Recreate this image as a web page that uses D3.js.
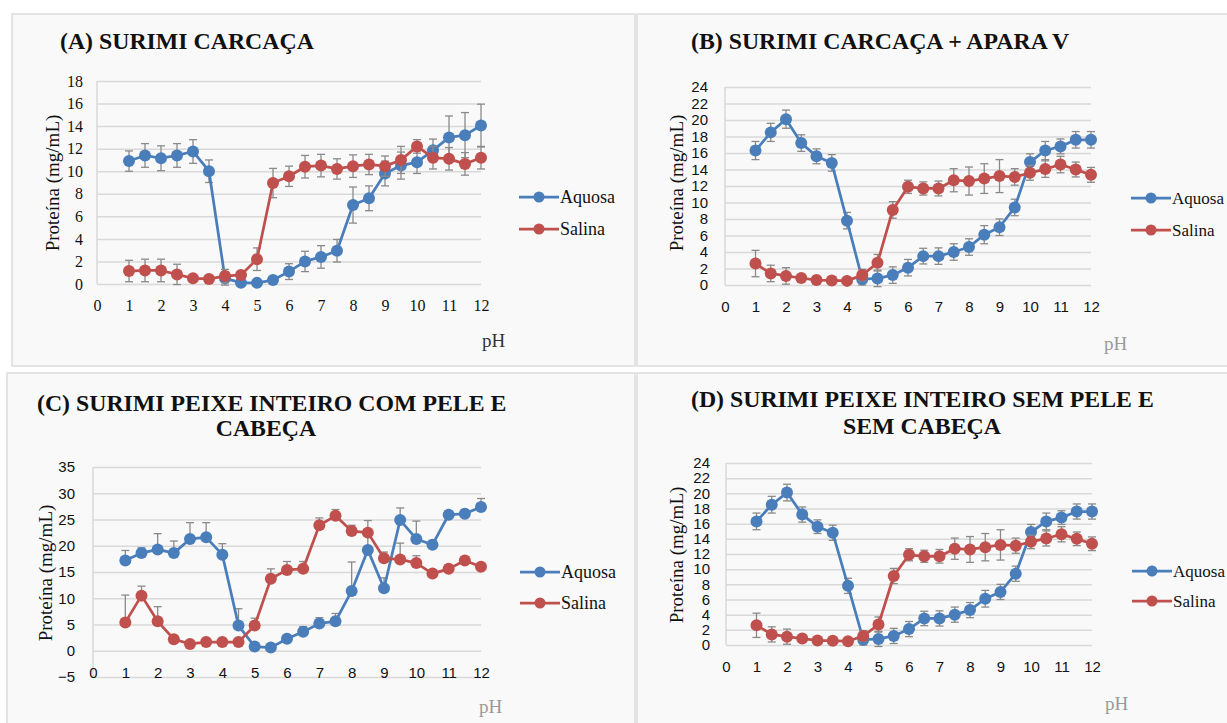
<!DOCTYPE html>
<html><head><meta charset="utf-8">
<script src="https://cdn.jsdelivr.net/npm/d3@7"></script>
<style>body{margin:0;background:#fff;} svg{display:block}</style>
</head><body><svg id="c" width="1227" height="723"></svg>
<script>
// ---------- DATA ----------
const ph = [1,1.5,2,2.5,3,3.5,4,4.5,5,5.5,6,6.5,7,7.5,8,8.5,9,9.5,10,10.5,11,11.5,12];
const xTicks = [0,1,2,3,4,5,6,7,8,9,10,11,12];
const seriesNames = ["Aquosa","Salina"];

// (A) Surimi carcaça
const aquosaA    = [10.9,11.4,11.15,11.4,11.75,10.0,0.5,0.12,0.1,0.35,1.1,2.0,2.4,2.95,7.0,7.6,9.8,10.5,10.8,11.85,13.0,13.2,14.05];
const aquosaAErr = [0.9,1.05,1.1,1.05,1.05,1.0,0.6,0.3,0.3,0.3,0.7,0.9,1.0,1.0,1.6,1.1,1.1,1.2,1.0,1.0,1.9,2.0,1.9];
const salinaA    = [1.15,1.2,1.2,0.85,0.5,0.45,0.7,0.8,2.2,8.95,9.55,10.4,10.5,10.2,10.45,10.6,10.45,11.0,12.2,11.2,11.1,10.65,11.2];
const salinaAErr = [0.95,1.0,1.0,0.9,0.3,0.3,0.6,0.3,1.0,1.3,0.9,1.0,1.0,0.9,1.0,0.9,0.9,1.2,0.6,1.0,1.0,1.0,1.0];
const yTicksA = [0,2,4,6,8,10,12,14,16,18];

// (B) Surimi carcaça + apara V
const aquosaB    = [16.3,18.5,20.1,17.2,15.6,14.8,7.8,0.7,0.8,1.2,2.1,3.5,3.5,4.0,4.6,6.1,7.0,9.4,14.9,16.3,16.8,17.6,17.6];
const aquosaBErr = [1.1,1.1,1.1,1.0,0.9,1.0,1.0,0.7,1.0,1.0,1.0,0.95,1.0,1.0,1.0,1.1,1.0,1.0,1.0,1.1,0.9,1.0,1.0];
const salinaB    = [2.6,1.4,1.1,0.85,0.6,0.55,0.5,1.2,2.7,9.1,11.9,11.7,11.7,12.7,12.6,12.9,13.2,13.1,13.6,14.05,14.6,14.0,13.35];
const salinaBErr = [1.6,1.0,1.0,0.3,0.3,0.3,0.4,0.7,1.0,1.0,0.8,0.8,0.9,1.4,1.7,1.8,2.0,1.0,0.9,1.0,1.0,0.9,0.9];
const yTicksB = [0,2,4,6,8,10,12,14,16,18,20,22,24];

// (C) Surimi peixe inteiro com pele e cabeça (positive error bars)
const aquosaC    = [17.2,18.6,19.3,18.6,21.3,21.6,18.3,4.8,0.8,0.6,2.3,3.6,5.2,5.6,11.4,19.2,11.9,24.9,21.3,20.2,25.9,26.1,27.4];
const aquosaCErr = [1.9,1.0,3.0,2.3,3.1,2.8,2.1,3.2,0.4,0.4,0.6,1.0,1.1,1.5,5.5,3.3,2.0,2.3,3.4,0.8,0.7,0.8,1.6];
const salinaC    = [5.4,10.5,5.6,2.2,1.3,1.65,1.65,1.65,4.8,13.7,15.4,15.6,23.9,25.7,22.8,22.5,17.6,17.4,16.7,14.7,15.6,17.2,16.0];
const salinaCErr = [5.2,1.8,2.8,0.5,0.3,0.3,0.3,0.3,1.4,1.9,1.6,1.4,1.4,1.2,1.1,2.3,1.2,3.1,1.4,0.4,0.4,0.4,0.4];
const yTicksC = [-5,0,5,10,15,20,25,30,35];

// (D) Surimi peixe inteiro sem pele e sem cabeça
const aquosaD    = [16.3,18.5,20.1,17.2,15.6,14.8,7.8,0.7,0.8,1.2,2.1,3.5,3.5,4.0,4.6,6.1,7.0,9.4,14.9,16.3,16.8,17.6,17.6];
const aquosaDErr = [1.1,1.1,1.1,1.0,0.9,1.0,1.0,0.7,1.0,1.0,1.0,0.95,1.0,1.0,1.0,1.1,1.0,1.0,1.0,1.1,0.9,1.0,1.0];
const salinaD    = [2.6,1.4,1.1,0.85,0.6,0.55,0.5,1.2,2.7,9.1,11.9,11.7,11.7,12.7,12.6,12.9,13.2,13.1,13.6,14.05,14.6,14.0,13.35];
const salinaDErr = [1.6,1.0,1.0,0.3,0.3,0.3,0.4,0.7,1.0,1.0,0.8,0.8,0.9,1.4,1.7,1.8,2.0,1.0,0.9,1.0,1.0,0.9,0.9];
const yTicksD = [0,2,4,6,8,10,12,14,16,18,20,22,24];

const titleA = ["(A) SURIMI CARCAÇA"];
const titleB = ["(B) SURIMI CARCAÇA + APARA V"];
const titleC = ["(C) SURIMI PEIXE INTEIRO COM PELE E","CABEÇA"];
const titleD = ["(D) SURIMI PEIXE INTEIRO SEM PELE E","SEM CABEÇA"];
const yTitle = "Proteína (mg/mL)";
const xTitle = "pH";

// ---------- STYLE ----------
const BLUE = "#4a7ebb", RED = "#c0504d", GRID = "#d9d9d9", ERR = "#8a8a8a";
const SERIF = "'Liberation Serif','Times New Roman',serif";
const SANS = "'Liberation Sans',Arial,sans-serif";

const svg = d3.select("#c");

// panel frames
const frames = [
  {x:12,y:14,w:623,h:352},
  {x:637,y:14,w:600,h:352},
  {x:7,y:373,w:628,h:360},
  {x:637,y:373,w:600,h:360}
];
svg.selectAll("rect.frame").data(frames).join("rect")
  .attr("class","frame")
  .attr("x",d=>d.x).attr("y",d=>d.y).attr("width",d=>d.w).attr("height",d=>d.h)
  .attr("fill","#f9f9f9").attr("stroke","#dcdcdc").attr("stroke-width",1.5);

const panels = [
  {title:titleA, titleX:60, titleY:[49], titleAnchor:"start",
   x0:97, x1:481, yTop:81, yBot:284, dom:[0,18], yTicks:yTicksA, tickFont:SERIF, tickSize:16,
   xLabY:305, yLabGap:14, yTitleX:52, yTitleY:183,
   series:[[aquosaA,aquosaAErr],[salinaA,salinaAErr]], errMode:"both",
   legX:519, legY:[197,229], legFont:18, phX:482, phY:347, phColor:"#333"},
  {title:titleB, titleX:691, titleY:[49], titleAnchor:"start",
   x0:725, x1:1091, yTop:87, yBot:285, dom:[0,24], yTicks:yTicksB, tickFont:SANS, tickSize:15,
   xLabY:307, yLabGap:17, yTitleX:676, yTitleY:183,
   series:[[aquosaB,aquosaBErr],[salinaB,salinaBErr]], errMode:"both",
   legX:1131, legY:[198,230], legFont:17, phX:1104, phY:350, phColor:"#9a9a9a"},
  {title:titleC, titleX:[37,266], titleY:[411,436], titleAnchor:["start","middle"],
   x0:93, x1:481, yTop:467, yBot:677, dom:[-5,35], yTicks:yTicksC, tickFont:SANS, tickSize:15,
   xLabY:673, yLabGap:18, yTitleX:45, yTitleY:573,
   series:[[aquosaC,aquosaCErr],[salinaC,salinaCErr]], errMode:"plus",
   legX:520, legY:[572,603], legFont:18, phX:479, phY:713, phColor:"#9a9a9a"},
  {title:titleD, titleX:[691,922], titleY:[407,434], titleAnchor:["start","middle"],
   x0:726, x1:1092, yTop:463, yBot:645, dom:[0,24], yTicks:yTicksD, tickFont:SANS, tickSize:15,
   xLabY:667, yLabGap:16, yTitleX:676, yTitleY:555,
   series:[[aquosaD,aquosaDErr],[salinaD,salinaDErr]], errMode:"both",
   legX:1132, legY:[571,601], legFont:17, phX:1105, phY:710, phColor:"#9a9a9a"}
];

const colors = [BLUE, RED];

panels.forEach(p => {
  const g = svg.append("g");
  const x = d3.scaleLinear().domain([0,12]).range([p.x0,p.x1]);
  const y = d3.scaleLinear().domain(p.dom).range([p.yBot,p.yTop]);

  // title
  p.title.forEach((t,i) => {
    g.append("text")
      .attr("x", Array.isArray(p.titleX) ? p.titleX[i] : p.titleX)
      .attr("y", p.titleY[i])
      .attr("text-anchor", Array.isArray(p.titleAnchor) ? p.titleAnchor[i] : p.titleAnchor)
      .attr("font-family", SERIF).attr("font-weight","bold").attr("font-size",23.8)
      .attr("fill","#111").text(t);
  });

  // gridlines
  const grid = g.append("g").attr("transform",`translate(${p.x0},0)`)
    .call(d3.axisLeft(y).tickValues(p.yTicks).tickSize(-(p.x1-p.x0)).tickFormat(""));
  grid.select(".domain").remove();
  grid.selectAll("line").attr("stroke",GRID).attr("stroke-width",1.5);

  // y axis line
  g.append("line").attr("x1",p.x0).attr("x2",p.x0).attr("y1",y(p.dom[1])).attr("y2",y(p.dom[0]))
    .attr("stroke",GRID).attr("stroke-width",1.5);

  // y tick labels
  const ya = g.append("g").attr("transform",`translate(${p.x0},0)`)
    .call(d3.axisLeft(y).tickValues(p.yTicks).tickSize(0).tickPadding(p.yLabGap).tickFormat(d3.format("d")));
  ya.select(".domain").remove();
  ya.selectAll("text").attr("font-family",p.tickFont).attr("font-size",p.tickSize).attr("fill","#111");

  // x tick labels
  const xa = g.append("g").attr("transform",`translate(0,${p.xLabY})`)
    .call(d3.axisBottom(x).tickValues(xTicks).tickSize(0).tickPadding(0).tickFormat(d3.format("d")));
  xa.select(".domain").remove();
  xa.selectAll("text").attr("dy","0.35em").attr("font-family",p.tickFont).attr("font-size",p.tickSize).attr("fill","#111");

  // axis titles
  g.append("text").attr("transform",`translate(${p.yTitleX},${p.yTitleY}) rotate(-90)`)
    .attr("text-anchor","middle").attr("dy","0.35em")
    .attr("font-family",SERIF).attr("font-size",19).attr("fill","#111").text(yTitle);
  g.append("text").attr("x",p.phX).attr("y",p.phY)
    .attr("font-family",SERIF).attr("font-size",19).attr("fill",p.phColor).text(xTitle);

  const line = d3.line().x((d,i)=>x(ph[i])).y(d=>y(d));

  p.series.forEach(([vals,errs],si) => {
    const sg = g.append("g");
    const lo = (v,e) => p.errMode==="plus" ? v : v - e;
    const hi = (v,e) => v + e;
    // error bars
    const eb = sg.append("g").attr("stroke",ERR).attr("stroke-width",1.3);
    vals.forEach((v,i) => {
      const cx = x(ph[i]), e = errs[i];
      eb.append("line").attr("x1",cx).attr("x2",cx).attr("y1",y(lo(v,e))).attr("y2",y(hi(v,e)));
      eb.append("line").attr("x1",cx-4).attr("x2",cx+4).attr("y1",y(hi(v,e))).attr("y2",y(hi(v,e)));
      if (p.errMode!=="plus")
        eb.append("line").attr("x1",cx-4).attr("x2",cx+4).attr("y1",y(lo(v,e))).attr("y2",y(lo(v,e)));
    });
    sg.append("path").datum(vals).attr("d",line).attr("fill","none")
      .attr("stroke",colors[si]).attr("stroke-width",2.75).attr("stroke-linejoin","round");
    sg.selectAll("circle").data(vals).join("circle")
      .attr("cx",(d,i)=>x(ph[i])).attr("cy",d=>y(d)).attr("r",6)
      .attr("fill",colors[si]);
  });

  // legend
  seriesNames.forEach((n,si) => {
    const ly = p.legY[si];
    g.append("line").attr("x1",p.legX).attr("x2",p.legX+40).attr("y1",ly).attr("y2",ly)
      .attr("stroke",colors[si]).attr("stroke-width",2.75);
    g.append("circle").attr("cx",p.legX+20).attr("cy",ly).attr("r",5.5).attr("fill",colors[si]);
    g.append("text").attr("x",p.legX+41).attr("y",ly).attr("dy","0.35em")
      .attr("font-family",SERIF).attr("font-size",p.legFont).attr("fill","#111").text(n);
  });
});
</script></body></html>
